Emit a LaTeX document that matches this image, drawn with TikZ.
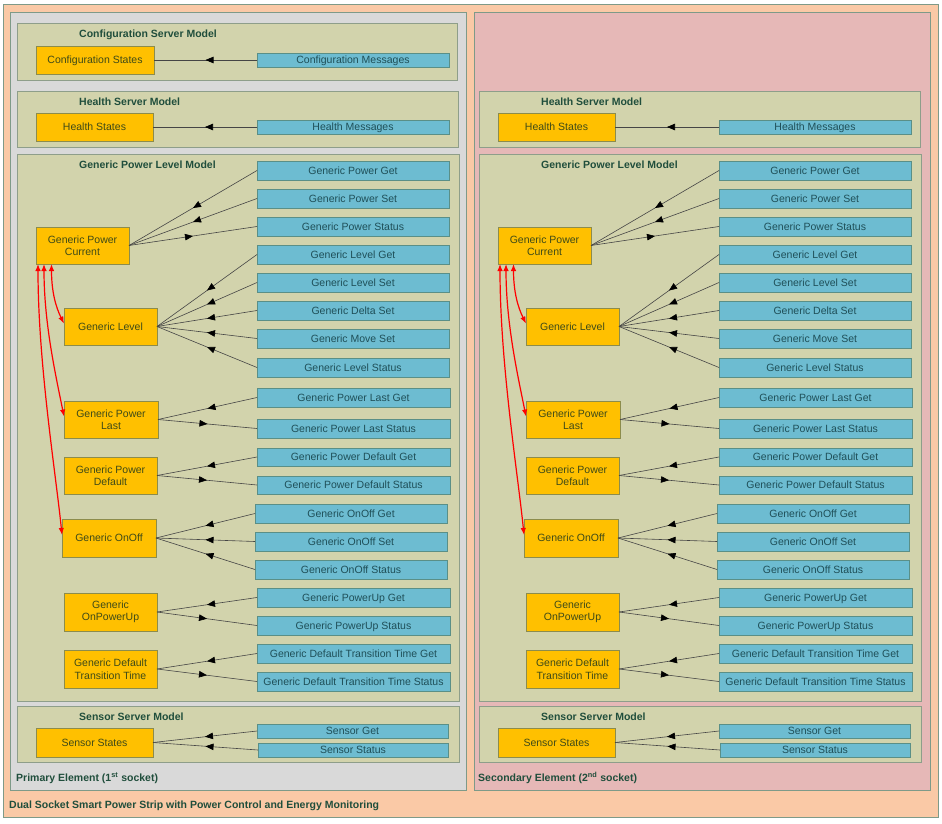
\documentclass[tikz,border=0pt]{standalone}
\usepackage{fontspec}
\setmainfont{Liberation Sans}
\usetikzlibrary{arrows.meta,decorations.markings}
\definecolor{outerc}{HTML}{FAC9A6}
\definecolor{greyc}{HTML}{D9D9D9}
\definecolor{pinkc}{HTML}{E6B8B7}
\definecolor{framec}{HTML}{7E9A88}
\definecolor{modelc}{HTML}{D2D3AC}
\definecolor{modelb}{HTML}{8E9E8A}
\definecolor{statec}{HTML}{FFC000}
\definecolor{stateb}{HTML}{8C8C4C}
\definecolor{statet}{HTML}{3E4A18}
\definecolor{msgc}{HTML}{6DBCD1}
\definecolor{msgb}{HTML}{5A8F87}
\definecolor{msgt}{HTML}{1F4F58}
\definecolor{titlec}{HTML}{204E3C}
\definecolor{connc}{HTML}{454545}
\tikzset{
  basebox/.style={anchor=north west, inner sep=0pt, outer sep=0pt, align=center,
    font=\fontsize{10.5}{12.5}\selectfont, line width=0.8pt},
  oneline/.style={text height=7.5pt, text depth=0pt},
  statebox/.style={basebox, fill=statec, draw=stateb, text=statet},
  msgbox/.style={basebox, oneline, fill=msgc, draw=msgb, text=msgt},
  modelbox/.style={fill=modelc, draw=modelb, line width=0.8pt},
  titletext/.style={anchor=west, inner sep=0pt, text=titlec,
    font=\fontsize{10.5}{12.5}\selectfont\bfseries},
  conn/.style={draw=connc, line width=0.6pt,
    decoration={markings, mark=at position 0.5 with {\arrow[black]{Triangle[length=8pt,width=6.5pt]}}},
    postaction={decorate}},
  redarr/.style={draw=red, line width=1.2pt, {Latex[length=7pt,width=5.5pt]}-{Latex[length=7pt,width=5.5pt]}}
}
\newcommand\bx[6]{\node[#1, minimum width=#4pt, minimum height=#5pt] (#2) at (#3) {#6};}
\newcommand\elem[1]{%
  % Health server model
  \draw[modelbox] (17,91) rectangle (458,147);
  \node[titletext] (#1ht) at (79,102) {Health Server Model};
  \bx{statebox,oneline}{#1hS}{36,113}{117}{28}{Health States}
  \bx{msgbox}{#1hM}{257,120}{192}{14}{Health Messages}
  \draw[conn] (#1hM.west) -- (#1hS.east);
  % Generic power level model
  \draw[modelbox] (17,154) rectangle (459,701);
  \node[titletext] (#1gt) at (79,165) {Generic Power Level Model};
  \bx{statebox}{#1gpc}{36,227}{93}{37}{Generic Power\\Current}
  \bx{statebox,oneline}{#1gl}{64,308}{93}{37}{Generic Level}
  \bx{statebox}{#1gpl}{64,401}{94}{37}{Generic Power\\Last}
  \bx{statebox}{#1gpd}{64,457}{93}{37}{Generic Power\\Default}
  \bx{statebox,oneline}{#1goo}{62,519}{94}{38}{Generic OnOff}
  \bx{statebox}{#1gopu}{64,593}{93}{38}{Generic\\OnPowerUp}
  \bx{statebox}{#1gdtt}{64,650}{93}{38}{Generic Default\\Transition Time}
  \bx{msgbox}{#1pg}{257,161}{192}{19}{Generic Power Get}
  \bx{msgbox}{#1ps}{257,189}{192}{19}{Generic Power Set}
  \bx{msgbox}{#1pst}{257,217}{192}{19}{Generic Power Status}
  \bx{msgbox}{#1lg}{257,245}{192}{19}{Generic Level Get}
  \bx{msgbox}{#1ls}{257,273}{192}{19}{Generic Level Set}
  \bx{msgbox}{#1ds}{257,301}{192}{19}{Generic Delta Set}
  \bx{msgbox}{#1ms}{257,329}{192}{19}{Generic Move Set}
  \bx{msgbox}{#1lst}{257,358}{192}{19}{Generic Level Status}
  \bx{msgbox}{#1plg}{257,388}{193}{19}{Generic Power Last Get}
  \bx{msgbox}{#1pls}{257,419}{193}{19}{Generic Power Last Status}
  \bx{msgbox}{#1pdg}{257,448}{193}{18}{Generic Power Default Get}
  \bx{msgbox}{#1pds}{257,476}{193}{18}{Generic Power Default Status}
  \bx{msgbox}{#1oog}{255,504}{192}{19}{Generic OnOff Get}
  \bx{msgbox}{#1oos}{255,532}{192}{19}{Generic OnOff Set}
  \bx{msgbox}{#1oost}{255,560}{192}{19}{Generic OnOff Status}
  \bx{msgbox}{#1pug}{257,588}{193}{19}{Generic PowerUp Get}
  \bx{msgbox}{#1pus}{257,616}{193}{19}{Generic PowerUp Status}
  \bx{msgbox}{#1dtg}{257,644}{193}{19}{Generic Default Transition Time Get}
  \bx{msgbox}{#1dts}{257,672}{193}{19}{Generic Default Transition Time Status}
  \draw[conn] (#1pg.west) -- (#1gpc.east);
  \draw[conn] (#1ps.west) -- (#1gpc.east);
  \draw[conn] (#1gpc.east) -- (#1pst.west);
  \draw[conn] (#1lg.west) -- (#1gl.east);
  \draw[conn] (#1ls.west) -- (#1gl.east);
  \draw[conn] (#1ds.west) -- (#1gl.east);
  \draw[conn] (#1ms.west) -- (#1gl.east);
  \draw[conn] (#1lst.west) -- (#1gl.east);
  \draw[conn] (#1plg.west) -- (#1gpl.east);
  \draw[conn] (#1gpl.east) -- (#1pls.west);
  \draw[conn] (#1pdg.west) -- (#1gpd.east);
  \draw[conn] (#1gpd.east) -- (#1pds.west);
  \draw[conn] (#1oog.west) -- (#1goo.east);
  \draw[conn] (#1oos.west) -- (#1goo.east);
  \draw[conn] (#1oost.west) -- (#1goo.east);
  \draw[conn] (#1pug.west) -- (#1gopu.east);
  \draw[conn] (#1gopu.east) -- (#1pus.west);
  \draw[conn] (#1dtg.west) -- (#1gdtt.east);
  \draw[conn] (#1gdtt.east) -- (#1dts.west);
  \draw[redarr] ([xshift=15.5pt]#1gpc.south west) .. controls +(0,28) and +(-8,-16) .. ([yshift=3pt]#1gl.west);
  \draw[redarr] ([xshift=8pt]#1gpc.south west) .. controls +(0,60) and +(-8,-40) .. ([yshift=3pt]#1gpl.west);
  \draw[redarr] ([xshift=2pt]#1gpc.south west) .. controls +(0,100) and +(-6,-60) .. ([yshift=3pt]#1goo.west);
  % Sensor server model
  \draw[modelbox] (17,706) rectangle (459,762);
  \node[titletext] (#1st) at (79,717) {Sensor Server Model};
  \bx{statebox,oneline}{#1sS}{36,728}{117}{29}{Sensor States}
  \bx{msgbox}{#1sg}{257,724}{191}{14}{Sensor Get}
  \bx{msgbox}{#1sst}{258,743}{190}{14}{Sensor Status}
  \draw[conn] (#1sg.west) -- (#1sS.east);
  \draw[conn] (#1sst.west) -- (#1sS.east);
}
\begin{document}
\begin{tikzpicture}[x=1pt,y=-1pt]
  \useasboundingbox (0,0) rectangle (942,824);
  \fill[white] (0,0) rectangle (942,824);
  \draw[fill=outerc, draw=framec, line width=0.8pt] (3,4) rectangle (938,817);
  \draw[fill=greyc, draw=framec, line width=0.8pt] (10,12) rectangle (466,790);
  \draw[fill=pinkc, draw=framec, line width=0.8pt] (474,12) rectangle (930,790);
  % Configuration server model (primary only)
  \draw[modelbox] (17,23) rectangle (457,80);
  \node[titletext] (ct) at (79,35) {Configuration Server Model};
  \bx{statebox,oneline}{cfgS}{36,46}{118}{28}{Configuration States}
  \bx{msgbox}{cfgM}{257,53}{192}{14}{Configuration Messages}
  \draw[conn] (cfgM.west) -- (cfgS.east);
  \elem{L}
  \node[titletext] (pe) at (16,778) {Primary Element (1\textsuperscript{st} socket)};
  \begin{scope}[xshift=462pt]
    \elem{R}
    \node[titletext] (se) at (16,778) {Secondary Element (2\textsuperscript{nd} socket)};
  \end{scope}
  \node[titletext] (dt) at (9,806) {Dual Socket Smart Power Strip with Power Control and Energy Monitoring};
\end{tikzpicture}
\end{document}
